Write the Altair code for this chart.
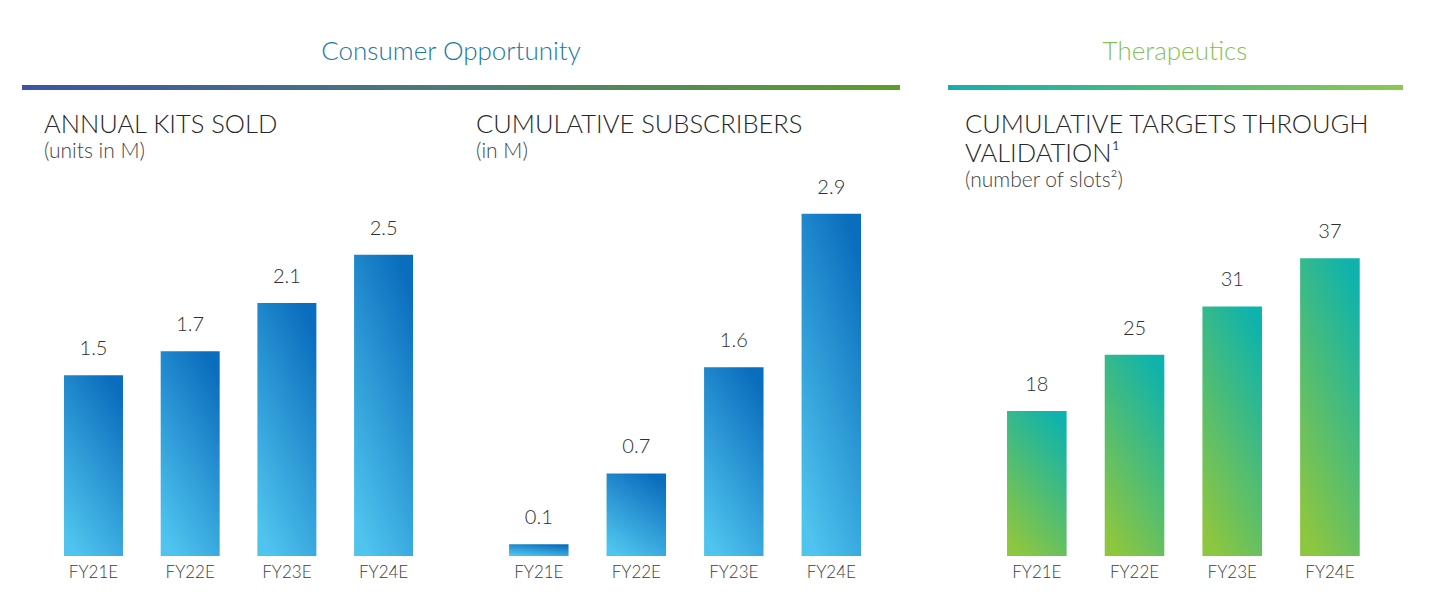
import altair as alt
import pandas as pd

categories = ["FY21E", "FY22E", "FY23E", "FY24E"]
kits_sold = [1.5, 1.7, 2.1, 2.5]
subscribers = [0.1, 0.7, 1.6, 2.9]
targets = [18, 25, 31, 37]

group_titles = ["Consumer Opportunity", "Therapeutics"]
panel_titles = [["ANNUAL KITS SOLD"], ["CUMULATIVE SUBSCRIBERS"],
                ["CUMULATIVE TARGETS THROUGH", "VALIDATION¹"]]
panel_subtitles = ["(units in M)", "(in M)", "(number of slots²)"]

FONT = "Lato"
W300 = 300
H = 536


def grad(c0, c1, x1=0.25, y1=1, x2=0.75, y2=0):
    return {"gradient": "linear", "x1": x1, "y1": y1, "x2": x2, "y2": y2,
            "stops": [{"offset": 0, "color": c0}, {"offset": 1, "color": c1}]}


BLUE = grad("#4fc4ee", "#0a6dbd")
GREEN = grad("#8dc63f", "#0fb3ac")
LINE1A = grad("#3c53a7", "#4d7b77", 0, 0, 1, 0)
LINE1B = grad("#4d7b77", "#5e9e2a", 0, 0, 1, 0)
LINE2 = grad("#14afab", "#8cc84e", 0, 0, 1, 0)


def text_layer(txt, x, y, size, color, align="left"):
    return alt.Chart(pd.DataFrame({"t": [txt]})).mark_text(
        align=align, baseline="alphabetic", font=FONT, fontSize=size,
        fontWeight=W300, color=color
    ).encode(x=alt.value(x), y=alt.value(y), text="t:N")


def rect_layer(x, x2, y, y2, fill):
    return alt.Chart(pd.DataFrame({"a": [0]})).mark_rect(fill=fill).encode(
        x=alt.value(x), x2=alt.value(x2), y=alt.value(y), y2=alt.value(y2))


def panel(values, fmt, width, pad_outer, align, ymax, fill, title_lines,
          subtitle, title_x, extras):
    df = pd.DataFrame({"cat": categories, "val": values})
    x = alt.X("cat:N", sort=categories,
              scale=alt.Scale(paddingInner=0.39, paddingOuter=pad_outer, align=align),
              axis=alt.Axis(title=None, labelAngle=0, domain=False, ticks=False,
                            labelFont=FONT, labelFontSize=17, labelFontWeight=W300,
                            labelColor="#3c3c3c", labelPadding=8))
    y = alt.Y("val:Q", scale=alt.Scale(domain=[0, ymax], nice=False, zero=True), axis=None)
    bars = alt.Chart(df).mark_bar(fill=fill).encode(x=x, y=y)
    labels = alt.Chart(df).mark_text(
        baseline="alphabetic", dy=-20, font=FONT, fontSize=20, fontWeight=W300,
        color="#2e2e2e"
    ).encode(x=x, y=y, text=alt.Text("val:Q", format=fmt))
    layers = [bars, labels]
    for i, line in enumerate(title_lines):
        layers.append(text_layer(line, title_x, 113 + 29 * i, 25.5, "#262626"))
    layers.append(text_layer(subtitle, title_x, 138 + 29 * (len(title_lines) - 1), 21, "#444444"))
    layers += extras
    return alt.layer(*layers).properties(width=width, height=H)


p1 = panel(kits_sold, ".1f", 439, 0.465, 0.467, H / 120.5, BLUE,
           panel_titles[0], panel_subtitles[0], 22,
           [rect_layer(0, 439, 65, 70, LINE1A),
            text_layer(group_titles[0], 429, 40, 26, "#1a78a3", "center")])
p2 = panel(subscribers, ".1f", 487, 0.6925, 0.356, H / 118.0, BLUE,
           panel_titles[1], panel_subtitles[1], 15,
           [rect_layer(0, 439, 65, 70, LINE1B)])
p3 = panel(targets, "d", 455, 0.5235, 0.577, H / 8.05, GREEN,
           panel_titles[2], panel_subtitles[2], 17,
           [rect_layer(0, 455, 65, 70, LINE2),
            text_layer(group_titles[1], 227, 40, 26, "#86bf55", "center")])

chart = alt.hconcat(p1, p2, p3, spacing=0, bounds="flush").properties(
    padding={"left": 14, "top": 12, "right": 0, "bottom": 0}
).configure_view(stroke=None)

chart.save("out.html", embed_options={"renderer": "svg", "actions": False})
